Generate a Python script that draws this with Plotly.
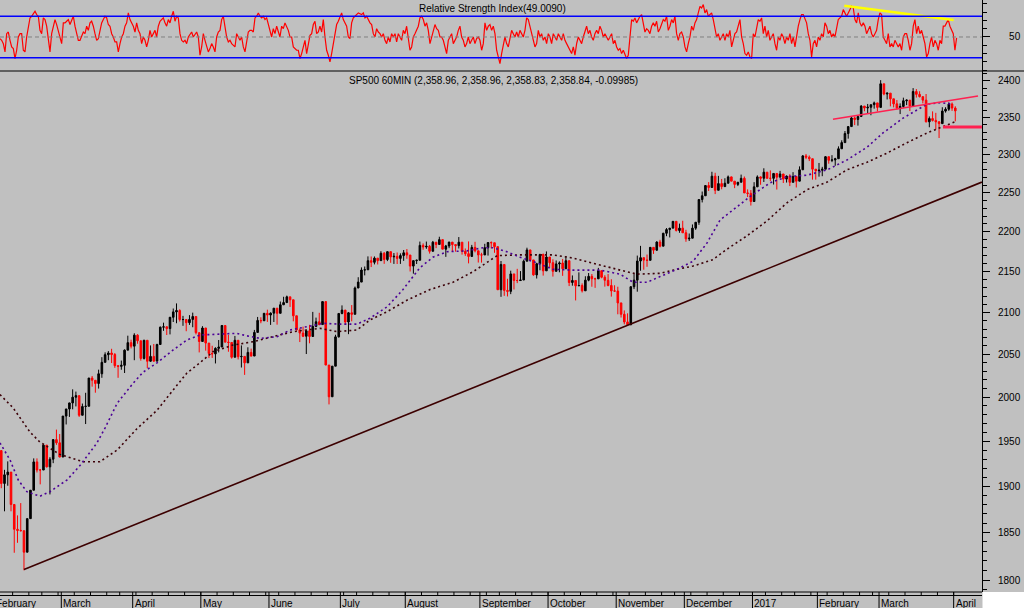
import numpy as np
import pandas as pd
import plotly.graph_objects as go

# ---------------- calendar (trading days, Feb 1 2016 .. Apr 3 2017) ----------------
HOLIDAYS = ["2016-02-15", "2016-03-25", "2016-05-30", "2016-07-04", "2016-09-05",
            "2016-11-24", "2016-12-26", "2017-01-02", "2017-01-16", "2017-02-20"]
MONTH_LABELS = ["February", "March", "April", "May", "June", "July", "August", "September",
                "October", "November", "December", "2017", "February", "March", "April"]

# ---------------- daily price data ----------------
FIRST_OPEN = 1936.9
CLOSE = [
    # Feb 2016
    1939.4, 1903.0, 1912.5, 1915.5, 1880.1, 1853.4, 1852.2, 1851.9, 1829.1, 1864.8,
    1895.6, 1926.8, 1917.8, 1917.8, 1945.5, 1921.3, 1929.8, 1951.7, 1948.1, 1932.2,
    # Mar
    1978.4, 1986.5, 1993.4, 2000.0, 2001.8, 1979.3, 1989.3, 1989.6, 2022.2, 2019.6,
    2015.9, 2027.2, 2040.6, 2049.6, 2051.6, 2049.8, 2036.7, 2035.9, 2037.1, 2055.0,
    2063.9, 2059.7,
    # Apr
    2072.8, 2066.1, 2045.2, 2066.7, 2041.9, 2047.6, 2042.0, 2061.7, 2082.4, 2082.8,
    2080.7, 2094.3, 2100.8, 2102.4, 2091.5, 2091.6, 2087.8, 2091.7, 2095.2, 2075.8,
    2065.3,
    # May
    2081.4, 2063.4, 2051.1, 2050.6, 2057.1, 2058.7, 2084.4, 2064.5, 2064.1, 2046.6,
    2066.7, 2047.2, 2047.6, 2040.0, 2052.3, 2048.0, 2076.1, 2090.5, 2090.1, 2099.1,
    2097.0,
    # Jun
    2099.3, 2105.3, 2099.1, 2109.4, 2112.1, 2119.1, 2115.5, 2096.1, 2079.1, 2075.3,
    2071.5, 2078.0, 2071.2, 2083.3, 2088.9, 2085.5, 2113.3, 2037.4, 2000.5, 2036.1,
    2070.8, 2098.9,
    # Jul
    2103.0, 2088.6, 2099.7, 2097.9, 2129.9, 2137.2, 2152.1, 2152.4, 2163.75, 2161.7,
    2166.9, 2163.8, 2173.0, 2165.2, 2175.0, 2168.5, 2169.2, 2166.6, 2170.1, 2173.6,
    # Aug
    2170.8, 2157.0, 2163.8, 2164.25, 2182.9, 2180.9, 2181.7, 2175.5, 2186.9, 2184.05,
    2190.15, 2178.15, 2182.2, 2187.0, 2183.9, 2182.6, 2186.9, 2175.4, 2172.5, 2169.0,
    2180.4, 2176.1, 2170.95,
    # Sep
    2170.9, 2180.0, 2186.5, 2186.2, 2181.3, 2127.8, 2159.0, 2127.0, 2125.8, 2147.3,
    2139.2, 2139.1, 2139.8, 2163.1, 2177.2, 2164.7, 2146.1, 2159.9, 2171.4, 2151.1,
    2168.3,
    # Oct
    2161.2, 2150.5, 2159.7, 2160.8, 2153.7, 2163.7, 2136.7, 2139.2, 2132.55, 2132.98,
    2126.5, 2139.6, 2144.3, 2141.3, 2141.2, 2151.3, 2143.2, 2139.4, 2133.0, 2126.4,
    2126.15,
    # Nov
    2111.7, 2097.9, 2088.7, 2085.2, 2131.5, 2139.6, 2163.3, 2167.5, 2164.45, 2164.2,
    2180.4, 2176.9, 2187.1, 2181.9, 2198.2, 2202.9, 2204.7, 2213.35, 2201.7, 2204.7,
    2198.8,
    # Dec
    2191.1, 2191.95, 2204.7, 2212.2, 2241.35, 2246.2, 2259.5, 2256.96, 2271.7, 2253.3,
    2262.0, 2258.1, 2262.5, 2270.8, 2265.2, 2261.0, 2263.8, 2268.9, 2249.9, 2249.3,
    2238.8,
    # Jan 2017
    2257.8, 2270.75, 2269.0, 2276.98, 2268.9, 2268.9, 2275.3, 2270.4, 2274.6, 2267.9,
    2271.9, 2263.7, 2271.3, 2265.2, 2280.1, 2298.4, 2296.7, 2294.7, 2280.9, 2278.9,
    # Feb
    2279.55, 2280.85, 2297.4, 2292.6, 2293.1, 2294.7, 2307.9, 2316.1, 2328.25, 2337.6,
    2349.25, 2347.2, 2351.2, 2365.4, 2362.8, 2363.8, 2367.3, 2369.75, 2363.6,
    # Mar
    2395.96, 2381.9, 2383.1, 2375.3, 2368.4, 2362.98, 2364.9, 2372.6, 2373.5, 2365.45,
    2385.3, 2381.4, 2378.25, 2373.5, 2344.0, 2348.45, 2345.96, 2343.98, 2341.6, 2358.6,
    2361.1, 2368.1, 2362.7,
    # Apr
    2358.84,
]
HIGH = [
    1947.2, 1937.0, 1918.0, 1927.4, 1913.1, 1873.3, 1868.3, 1881.6, 1850.0, 1864.8,
    1895.8, 1930.7, 1930.7, 1918.8, 1946.7, 1945.5, 1932.1, 1951.7, 1963.0, 1958.0,
    1978.4, 1986.5, 1993.7, 2009.1, 2006.5, 1999.4, 1992.7, 2005.1, 2022.4, 2024.6,
    2015.9, 2032.0, 2046.7, 2052.4, 2053.9, 2056.6, 2051.6, 2036.0, 2042.7, 2055.9,
    2072.2, 2067.4,
    2075.1, 2074.0, 2062.8, 2067.3, 2062.9, 2060.6, 2062.3, 2062.6, 2083.1, 2087.8,
    2083.2, 2094.7, 2104.9, 2111.1, 2104.0, 2096.0, 2087.8, 2096.9, 2099.9, 2094.0,
    2073.9,
    2083.6, 2074.0, 2059.6, 2060.2, 2058.4, 2067.0, 2084.9, 2083.3, 2073.2, 2064.2,
    2071.9, 2067.0, 2060.6, 2044.2, 2058.4, 2056.8, 2079.1, 2094.7, 2094.3, 2099.1,
    2103.5,
    2100.2, 2105.3, 2100.9, 2113.4, 2119.2, 2120.6, 2116.5, 2109.0, 2095.9, 2081.1,
    2083.0, 2079.6, 2085.2, 2100.8, 2093.9, 2099.7, 2113.3, 2076.0, 2032.6, 2036.1,
    2073.3, 2098.9,
    2108.7, 2100.7, 2100.7, 2109.1, 2131.7, 2143.2, 2155.4, 2156.5, 2169.1, 2169.0,
    2169.0, 2164.0, 2175.6, 2174.6, 2175.1, 2173.7, 2173.3, 2174.0, 2172.9, 2177.1,
    2178.3, 2168.1, 2164.0, 2165.1, 2187.7, 2185.4, 2187.7, 2183.4, 2188.5, 2186.3,
    2193.8, 2187.0, 2183.5, 2187.5, 2185.0, 2183.0, 2193.4, 2186.7, 2179.0, 2187.9,
    2183.5, 2187.4, 2175.8,
    2173.6, 2184.9, 2186.6, 2187.9, 2184.9, 2169.1, 2163.3, 2150.5, 2141.3, 2151.3,
    2142.6, 2153.6, 2150.8, 2165.1, 2180.0, 2173.3, 2158.5, 2161.1, 2172.4, 2172.7,
    2175.3,
    2164.4, 2165.5, 2164.0, 2162.9, 2165.9, 2169.6, 2161.6, 2145.4, 2138.2, 2149.2,
    2135.6, 2144.4, 2148.4, 2147.2, 2142.6, 2154.8, 2151.4, 2145.7, 2147.1, 2140.7,
    2133.3,
    2131.5, 2111.8, 2102.6, 2099.1, 2132.0, 2146.9, 2170.1, 2182.3, 2165.9, 2171.4,
    2180.8, 2179.2, 2188.1, 2189.9, 2198.7, 2204.8, 2204.7, 2213.35, 2211.1, 2210.5,
    2214.1,
    2202.6, 2197.9, 2209.4, 2212.5, 2241.6, 2251.7, 2259.8, 2264.0, 2277.5, 2276.2,
    2272.1, 2268.1, 2269.0, 2272.6, 2271.2, 2263.4, 2263.8, 2273.8, 2271.3, 2254.5,
    2253.6,
    2263.9, 2272.8, 2271.5, 2282.1, 2275.5, 2279.3, 2275.5, 2271.8, 2278.7, 2272.1,
    2272.6, 2274.3, 2277.0, 2271.8, 2284.6, 2299.6, 2301.0, 2299.0, 2286.0, 2279.1,
    2289.1, 2284.0, 2298.3, 2296.2, 2299.4, 2295.9, 2311.1, 2319.2, 2331.6, 2337.6,
    2351.3, 2351.3, 2351.3, 2366.7, 2365.1, 2368.3, 2367.3, 2371.5, 2367.8,
    2401.0, 2394.75, 2383.9, 2378.8, 2375.1, 2373.6, 2369.1, 2376.9, 2374.4, 2368.5,
    2390.0, 2388.7, 2385.7, 2378.6, 2381.9, 2351.3, 2358.2, 2356.2, 2344.9, 2363.8,
    2363.8, 2370.4, 2370.3,
    2365.1,
]
LOW = [
    1920.0, 1897.8, 1872.7, 1900.5, 1872.7, 1828.5, 1839.0, 1851.0, 1810.1, 1834.9,
    1881.6, 1898.8, 1915.1, 1902.0, 1924.5, 1920.6, 1891.0, 1925.4, 1945.8, 1931.8,
    1937.1, 1968.8, 1977.4, 1986.1, 1989.4, 1977.4, 1979.8, 1969.3, 1998.8, 2012.2,
    2005.2, 2010.0, 2022.5, 2041.3, 2043.1, 2039.8, 2034.1, 2022.5, 2031.9, 2028.1,
    2057.7, 2057.0,
    2043.1, 2062.6, 2042.6, 2043.9, 2033.8, 2041.2, 2041.5, 2042.1, 2064.1, 2078.0,
    2073.0, 2073.7, 2088.6, 2087.1, 2089.1, 2084.0, 2077.5, 2085.1, 2082.3, 2073.7,
    2052.3,
    2066.8, 2054.4, 2045.6, 2045.8, 2039.3, 2052.3, 2062.0, 2064.5, 2053.1, 2045.0,
    2046.6, 2044.0, 2034.5, 2025.9, 2043.5, 2047.5, 2052.7, 2078.9, 2087.1, 2090.2,
    2088.7,
    2085.1, 2088.6, 2085.4, 2100.0, 2110.0, 2112.0, 2106.8, 2089.4, 2078.5, 2064.6,
    2070.5, 2050.4, 2063.1, 2083.3, 2082.3, 2084.7, 2090.7, 2037.4, 1991.7, 2009.3,
    2044.5, 2070.0,
    2097.9, 2085.0, 2074.0, 2089.4, 2099.1, 2131.6, 2139.6, 2145.5, 2158.6, 2155.8,
    2159.1, 2159.0, 2165.1, 2159.8, 2163.2, 2161.1, 2159.7, 2159.6, 2159.7, 2163.5,
    2166.1, 2150.3, 2147.6, 2159.6, 2168.5, 2177.4, 2178.6, 2172.6, 2177.0, 2179.4,
    2186.8, 2178.2, 2168.5, 2179.4, 2175.1, 2175.0, 2179.0, 2171.3, 2169.7, 2160.4,
    2170.2, 2174.1, 2161.4,
    2161.3, 2173.6, 2170.1, 2179.1, 2173.6, 2127.8, 2119.1, 2120.3, 2119.6, 2122.4,
    2128.1, 2135.9, 2139.2, 2139.6, 2170.0, 2164.0, 2145.0, 2141.6, 2151.8, 2145.2,
    2156.5,
    2154.8, 2144.0, 2150.3, 2149.3, 2144.9, 2160.4, 2132.3, 2132.8, 2114.7, 2132.98,
    2124.4, 2135.5, 2138.2, 2131.5, 2130.1, 2146.9, 2141.9, 2131.6, 2132.0, 2119.4,
    2125.5,
    2097.9, 2094.0, 2085.8, 2083.8, 2100.6, 2128.6, 2125.4, 2151.2, 2152.5, 2156.1,
    2166.4, 2172.2, 2176.1, 2180.4, 2186.4, 2194.5, 2192.9, 2206.3, 2200.4, 2198.8,
    2198.8,
    2187.4, 2188.4, 2200.0, 2202.5, 2208.9, 2237.6, 2249.8, 2252.4, 2260.3, 2248.4,
    2253.8, 2254.6, 2258.8, 2266.1, 2265.2, 2256.1, 2258.8, 2266.2, 2249.8, 2244.6,
    2233.6,
    2245.1, 2261.6, 2260.5, 2264.1, 2268.9, 2265.3, 2260.8, 2254.3, 2271.2, 2262.8,
    2263.4, 2258.8, 2265.0, 2257.0, 2266.2, 2288.9, 2294.1, 2291.6, 2267.2, 2267.2,
    2271.1, 2271.7, 2287.9, 2288.1, 2290.2, 2285.4, 2295.1, 2311.1, 2321.4, 2321.4,
    2339.6, 2339.6, 2338.9, 2355.1, 2358.3, 2355.1, 2352.9, 2361.9, 2358.0,
    2379.6, 2380.2, 2374.4, 2365.0, 2363.6, 2360.5, 2354.5, 2363.0, 2366.7, 2358.6,
    2368.1, 2377.0, 2377.2, 2369.1, 2343.3, 2336.7, 2344.5, 2333.6, 2322.25, 2341.0,
    2356.5, 2358.9, 2358.8,
    2344.7,
]

# ---------------- moving averages (x in trading-day units) ----------------
MA_FAST_X = [1.1, 4.2, 6.7, 9.4, 13.4, 16.5, 21.8, 25.8, 31.0, 33.5, 37.2, 42.1, 45.2, 49.5, 54.4,
             58.7, 62.7, 68.0, 74.1, 77.2, 81.2, 86.5, 90.5, 95.7, 100.7, 105.9, 111.1, 115.1,
             120.4, 125.3, 130.5, 134.5, 138.9, 145.0, 150.0, 153.0, 157.3, 161.4, 166.6, 171.5,
             177.7, 186.0, 192.2, 196.2, 200.5, 204.5, 209.7, 214.7, 219.0, 223.0, 227.0, 232.2,
             238.4, 243.6, 249.8, 256.0, 262.1, 268.3, 273.2, 279.4, 283.7, 286.8, 290.8, 294.8]
MA_FAST = [1948, 1929, 1907, 1894, 1889, 1894, 1907, 1923, 1948, 1965, 1993, 2016, 2029, 2040, 2055,
           2067, 2073, 2074, 2075, 2072, 2069, 2071, 2079, 2083, 2087, 2086, 2086, 2093,
           2107, 2128, 2155, 2168, 2175, 2176, 2180, 2180, 2175, 2168, 2161, 2153,
           2152, 2152, 2147, 2137, 2137, 2144, 2153, 2163, 2186, 2215, 2228, 2245,
           2263, 2271, 2273, 2280, 2293, 2310, 2329, 2349, 2360, 2368, 2370, 2368]
MA_SLOW_X = [1.1, 5.1, 10.4, 13.4, 19.6, 26.7, 31.9, 37.2, 43.3, 49.5, 54.4, 58.7, 62.7, 66.7,
             72.9, 79.1, 85.2, 91.4, 99.7, 105.0, 111.1, 115.1, 120.4, 126.5, 133.6, 140.7,
             146.9, 151.2, 154.3, 161.4, 171.5, 177.7, 186.0, 192.2, 197.4, 204.5, 209.7,
             214.7, 220.8, 225.1, 231.3, 237.5, 243.6, 249.8, 256.0, 262.1, 268.3, 274.4,
             280.6, 286.8, 290.8, 295.4]
MA_SLOW = [2003, 1988, 1960, 1949, 1935, 1927, 1927, 1940, 1964, 1985, 2008, 2028, 2040, 2053,
           2061, 2065, 2071, 2077, 2081, 2077, 2079, 2091, 2101, 2115, 2128, 2137,
           2150, 2161, 2170, 2171, 2171, 2167, 2158, 2152, 2147, 2148, 2153,
           2157, 2165, 2178, 2195, 2214, 2237, 2254, 2264, 2280, 2290, 2302,
           2316, 2329, 2336, 2344]

# ---------------- drawn lines ----------------
LONG_TL_X, LONG_TL = [8.5, 303.7], [1811, 2264]
RED_TL_X, RED_TL = [257.8, 302.5], [2347.5, 2379.2]
SUPPORT_X, SUPPORT = [291.7, 303.7], [2337, 2337]
RSI_TL_X, RSI_TL = [261.3, 295.0], [87.7, 70.5]
RSI_BANDS = [75, 25]
RSI_MID = 50

# ---------------- RSI (evenly spaced samples) ----------------
RSI_A = [
    48, 46, 42, 32, 54, 56, 46, 38, 36, 24, 34, 50, 54, 54, 34, 32, 50, 63, 73, 75,
    79, 81, 77, 75, 58, 54, 73, 71, 63, 46, 32, 54, 63, 71, 65, 58, 50, 42, 67, 67,
    69, 71, 65, 69, 75, 63, 54, 46, 46, 50, 56, 54, 63, 58, 67, 69, 63, 54, 46, 48,
    58, 67, 71, 75, 73, 65, 63, 54, 50, 44, 44, 32, 42, 50, 54, 63, 67, 79, 71, 67,
    63, 56, 67, 58, 54, 42, 50, 46, 38, 46, 58, 50, 54, 58, 50, 63, 69, 71, 73, 67,
    63, 71, 67, 75, 81, 69, 75, 73, 54, 46, 44, 46, 42, 50, 54, 56, 50, 54, 56, 50,
    28, 38, 54, 46, 38, 32, 36, 42, 38, 32, 50, 56, 58, 71, 75, 63, 50, 44, 46, 42,
    40, 38, 54, 50, 46, 50, 38, 32, 42, 56, 58, 58, 56, 73, 75, 79, 75, 73, 75, 71,
    73, 65, 58, 50, 60, 54, 63, 56, 50, 63, 60, 67, 63, 58, 50, 50, 38, 36, 34, 34,
    24, 30, 38, 46, 30, 44, 52, 54, 65, 69, 54, 56, 63, 56, 71, 50, 34, 28, 20, 30,
    42, 50, 65, 69, 73, 79, 71, 67, 63, 50, 48, 67, 73, 75, 77, 79, 78, 77, 79, 73,
    75, 71, 67, 65, 54, 50, 60, 56, 54, 50, 54, 46, 42, 50, 44, 54, 50, 54, 44, 54,
    50, 46, 58, 54, 63, 50, 34, 38, 50, 54, 58, 63, 73, 75, 71, 63, 67, 58, 42, 50,
    58, 65, 60, 58, 50, 50, 46, 38, 30, 46, 50, 54, 42, 46, 50, 58, 63, 50, 46, 38,
    42, 50, 42, 46, 50, 42, 48, 50, 46, 34, 42, 67, 58, 63, 65, 58, 63, 54, 34, 26,
    18, 30, 42, 50, 42, 38, 48, 58,
]
RSI_B = [
    54, 50, 56, 50, 58, 54, 50, 58, 73, 71, 63, 54, 46, 38, 42, 58, 50, 54, 46, 50,
    42, 54, 50, 42, 54, 50, 46, 54, 50, 46, 54, 46, 42, 38, 34, 30, 38, 28, 42, 50,
    46, 42, 50, 58, 63, 54, 58, 50, 46, 54, 58, 54, 63, 58, 50, 54, 50, 46, 50, 54,
    42, 46, 38, 34, 36, 30, 34, 28, 24, 28, 46, 71, 69, 73, 67, 71, 75, 77, 67, 56,
    60, 58, 54, 63, 67, 63, 69, 56, 60, 67, 71, 69, 75, 58, 63, 71, 67, 75, 54, 46,
    54, 56, 50, 38, 32, 42, 50, 63, 58, 67, 71, 79, 87, 85, 89, 79, 83, 75, 77, 79,
    71, 58, 50, 54, 46, 50, 54, 46, 54, 50, 58, 38, 46, 54, 56, 63, 71, 50, 42, 30,
    28, 32, 26, 24, 54, 50, 63, 71, 69, 73, 54, 63, 50, 58, 46, 50, 54, 42, 34, 50,
    46, 54, 50, 42, 50, 46, 54, 42, 50, 38, 54, 63, 71, 77, 77, 71, 67, 54, 46, 26,
    42, 46, 38, 50, 46, 54, 50, 67, 63, 54, 58, 50, 54, 50, 63, 71, 73, 75, 83, 79,
    75, 79, 83, 87, 85, 71, 67, 79, 67, 63, 67, 63, 54, 58, 63, 54, 50, 54, 58, 71,
    79, 77, 50, 46, 42, 54, 38, 42, 38, 46, 42, 38, 42, 34, 50, 54, 54, 46, 34, 42,
    63, 71, 54, 63, 54, 58, 50, 42, 26, 30, 42, 50, 38, 46, 42, 34, 46, 42, 63, 63,
    67, 71, 63, 58, 54, 34, 49,
]
RSI = RSI_A + RSI_B

# ---------------- derived structures ----------------
FONT = "Liberation Sans, Arial, sans-serif"
days = pd.bdate_range("2016-02-01", "2017-04-03")
days = days[~days.isin(pd.to_datetime(HOLIDAYS))]
n = len(days)
close = np.array(CLOSE, dtype=float)[:n]
opens = np.r_[FIRST_OPEN, close[:-1]]
high = np.maximum(np.array(HIGH, dtype=float)[:n], np.maximum(opens, close))
low = np.minimum(np.array(LOW, dtype=float)[:n], np.minimum(opens, close))
xbar = np.arange(n) + 0.5

mkey = days.to_period("M")
month_starts = np.r_[0, np.where(mkey[1:] != mkey[:-1])[0] + 1]
wkey = days.to_period("W")
week_starts = np.r_[0, np.where(wkey[1:] != wkey[:-1])[0] + 1]

X_LEFT, X_RIGHT = 1.109, 303.73
rsi_x = np.linspace(X_LEFT, 295.9, len(RSI))

H = 608.0
STRIP_H, RSI_H = 16.0, 71.0

fig = go.Figure()

# price candles
fig.add_trace(go.Candlestick(
    x=xbar, open=opens, high=high, low=low, close=close,
    increasing=dict(line=dict(color="black", width=1), fillcolor="black"),
    decreasing=dict(line=dict(color="#ff0000", width=1), fillcolor="#ff0000"),
    whiskerwidth=0, hoverinfo="skip", showlegend=False, xaxis="x", yaxis="y"))

# moving averages
fig.add_trace(go.Scatter(x=MA_SLOW_X, y=MA_SLOW, mode="lines",
                         line=dict(color="#3c0008", width=1.6, dash="2px,3px"),
                         hoverinfo="skip", xaxis="x", yaxis="y"))
fig.add_trace(go.Scatter(x=MA_FAST_X, y=MA_FAST, mode="lines",
                         line=dict(color="#4b0096", width=1.6, dash="2px,3px"),
                         hoverinfo="skip", xaxis="x", yaxis="y"))

# trend lines
fig.add_trace(go.Scatter(x=LONG_TL_X, y=LONG_TL, mode="lines",
                         line=dict(color="#3c0000", width=1.6),
                         hoverinfo="skip", xaxis="x", yaxis="y"))
fig.add_trace(go.Scatter(x=RED_TL_X, y=RED_TL, mode="lines",
                         line=dict(color="#ff2050", width=1.4),
                         hoverinfo="skip", xaxis="x", yaxis="y"))
fig.add_trace(go.Scatter(x=SUPPORT_X, y=SUPPORT, mode="lines",
                         line=dict(color="#ff2050", width=3),
                         hoverinfo="skip", xaxis="x", yaxis="y"))

# RSI
fig.add_trace(go.Scatter(x=rsi_x, y=RSI, mode="lines",
                         line=dict(color="#ff0000", width=1.2),
                         hoverinfo="skip", xaxis="x", yaxis="y2"))
fig.add_trace(go.Scatter(x=RSI_TL_X, y=RSI_TL, mode="lines",
                         line=dict(color="#ffff00", width=2.6),
                         hoverinfo="skip", xaxis="x", yaxis="y2"))

# bottom date strip: week ticks and month separators
wx, wy = [], []
for w in week_starts:
    wx += [w, w, None]
    wy += [16, 12.5, None]
fig.add_trace(go.Scatter(x=wx, y=wy, mode="lines", line=dict(color="black", width=1),
                         hoverinfo="skip", xaxis="x", yaxis="y3"))
mx, my = [], []
for m in month_starts:
    mx += [m, m, None]
    my += [16, 0, None]
fig.add_trace(go.Scatter(x=mx, y=my, mode="lines", line=dict(color="black", width=1),
                         hoverinfo="skip", xaxis="x", yaxis="y3"))

annotations = []
for k, (m, lab) in enumerate(zip(month_starts, MONTH_LABELS)):
    if k == 0:
        annotations.append(dict(x=0, xref="paper", y=4.3, yref="y3", text=lab, showarrow=False,
                                xanchor="left", yanchor="middle", xshift=-6,
                                font=dict(family=FONT, size=10, color="black")))
    else:
        annotations.append(dict(x=m, xref="x", y=4.3, yref="y3", text=lab, showarrow=False,
                                xanchor="left", yanchor="middle", xshift=0,
                                font=dict(family=FONT, size=10, color="black")))

annotations.append(dict(x=417 / 982, xref="paper", y=1 - 8.5 / H, yref="paper",
                        text="Relative Strength Index(49.0090)", showarrow=False,
                        xanchor="left", yanchor="middle",
                        font=dict(family=FONT, size=10, color="black")))
annotations.append(dict(x=347 / 982, xref="paper", y=1 - 80.5 / H, yref="paper",
                        text="SP500 60MIN (2,358.96, 2,358.96, 2,358.83, 2,358.84, -0.09985)",
                        showarrow=False, xanchor="left", yanchor="middle",
                        font=dict(family=FONT, size=10, color="black")))

shapes = []
for lvl in RSI_BANDS:
    shapes.append(dict(type="line", xref="paper", x0=0, x1=1, yref="y2", y0=lvl, y1=lvl,
                       line=dict(color="#0000ff", width=1.3)))
shapes.append(dict(type="line", xref="paper", x0=0, x1=1, yref="y2", y0=RSI_MID, y1=RSI_MID,
                   line=dict(color="#808080", width=1, dash="4px,3px")))
# panel separator and strip lines
top_main = 1 - RSI_H / H
shapes.append(dict(type="line", xref="paper", x0=0, x1=1.05, yref="paper",
                   y0=top_main, y1=top_main, line=dict(color="black", width=1.2)))
shapes.append(dict(type="line", xref="paper", x0=0, x1=1, yref="paper",
                   y0=STRIP_H / H, y1=STRIP_H / H, line=dict(color="black", width=1)))
shapes.append(dict(type="line", xref="paper", x0=0, x1=1, yref="paper",
                   y0=12.5 / H, y1=12.5 / H, line=dict(color="black", width=1)))
shapes.append(dict(type="rect", xref="paper", x0=1.0005, x1=1.06, yref="paper",
                   y0=-0.01, y1=STRIP_H / H, fillcolor="white", line=dict(width=0), layer="above"))

price_ticks = list(range(1800, 2401, 50))
price_minor = [v for v in range(1790, 2411, 10) if v % 50 != 0]

fig.update_layout(
    width=1024, height=608,
    margin=dict(l=0, r=42, t=0, b=0, pad=0),
    paper_bgcolor="#c0c0c0", plot_bgcolor="#c0c0c0",
    showlegend=False,
    font=dict(family=FONT, size=10, color="black"),
    xaxis=dict(domain=[0, 1], range=[X_LEFT, X_RIGHT], anchor="y3",
               showticklabels=False, ticks="", showgrid=False, zeroline=False,
               showline=False, rangeslider=dict(visible=False), fixedrange=True),
    yaxis=dict(domain=[STRIP_H / H, 1 - RSI_H / H], type="log",
               range=[np.log10(1787.6), np.log10(2413.7)],
               side="right", anchor="x", showline=True, linecolor="black", linewidth=1,
               ticks="outside", ticklen=7, tickcolor="black", tickwidth=1,
               tickvals=price_ticks, ticktext=[str(v) for v in price_ticks],
               tickfont=dict(family=FONT, size=10, color="black"),
               ticklabelstandoff=6,
               minor=dict(tickvals=price_minor, ticks="outside", ticklen=4,
                          tickcolor="black", tickwidth=1, showgrid=False),
               showgrid=False, zeroline=False, fixedrange=True),
    yaxis2=dict(domain=[1 - RSI_H / H, 1], range=[9.0, 94.6],
                side="right", anchor="x", showline=True, linecolor="black", linewidth=1,
                ticks="outside", ticklen=7, tickcolor="black", tickwidth=1,
                tickvals=[50], ticktext=["\u2007\u200750"],
                tickfont=dict(family=FONT, size=10, color="black"),
                ticklabelstandoff=6,
                minor=dict(tickvals=[10, 20, 30, 40, 60, 70, 80, 90], ticks="outside",
                           ticklen=4, tickcolor="black", tickwidth=1, showgrid=False),
                showgrid=False, zeroline=False, fixedrange=True),
    yaxis3=dict(domain=[0, 17 / H], range=[0, 17], anchor="x", visible=False,
                fixedrange=True),
    annotations=annotations,
    shapes=shapes,
)

fig.write_html("out.html", config={"displayModeBar": False},
               post_script="document.body.style.margin='0';document.body.style.overflow='hidden';")
